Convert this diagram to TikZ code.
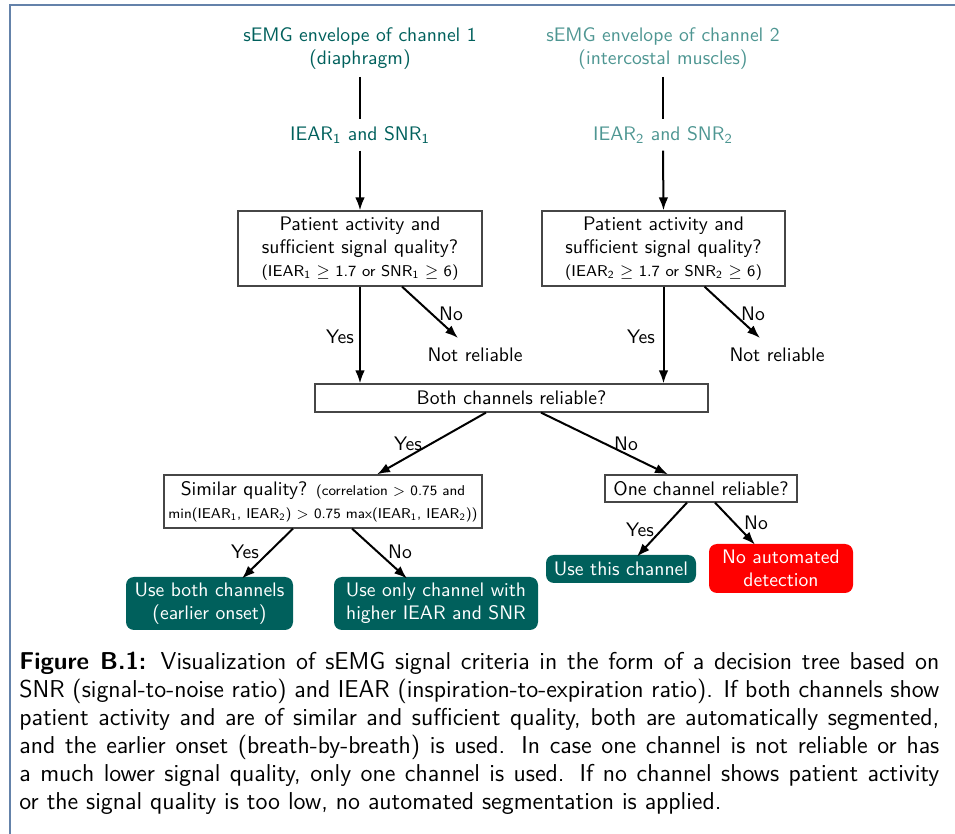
\documentclass[tikz,border=0pt]{standalone}
\usetikzlibrary{arrows.meta}
\definecolor{tealA}{RGB}{0,96,92}
\definecolor{tealB}{RGB}{78,150,146}
\definecolor{frameblue}{RGB}{100,130,170}
\definecolor{boxline}{RGB}{70,70,70}
\newcommand{\smalltxt}{\fontsize{7.8}{9}\selectfont}
\newcommand{\tinytxt}{\fontsize{7.1}{9}\selectfont}
\tikzset{
  qbox/.style={draw=boxline, line width=0.6pt, align=center, inner sep=1pt, fill=white},
  leaf/.style={fill=tealA, text=white, rounded corners=4pt, align=center, inner sep=1pt},
  arr/.style={-{Latex[length=6.5pt,width=4.8pt]}, line width=1pt},
  plain/.style={line width=1pt},
  lbl/.style={inner sep=0pt},
}
\begin{document}
\begin{tikzpicture}[x=0.5pt,y=-0.5pt,font=\sffamily\fontsize{9.8}{11.5}\selectfont]
\useasboundingbox (0,0) rectangle (955,834);
% page frame
\draw[frameblue, line width=1pt] (9.5,834) -- (9.5,5.5) -- (955,5.5);

% channel 1
\node[text=tealA, align=center] (c1) at (360,49) {sEMG envelope of channel 1\\(diaphragm)};
\node[text=tealA] (m1) at (360,135) {IEAR\textsubscript{1} and SNR\textsubscript{1}};
% channel 2
\node[text=tealB, align=center] (c2) at (663,49) {sEMG envelope of channel 2\\(intercostal muscles)};
\node[text=tealB] (m2) at (663,135) {IEAR\textsubscript{2} and SNR\textsubscript{2}};

% question boxes
\node[qbox, minimum width=122pt, minimum height=37.5pt] (b1) at (360,248.5)
  {Patient activity and\\sufficient signal quality?\\{\smalltxt (IEAR\textsubscript{1} $\geq$ 1.7 or SNR\textsubscript{1} $\geq$ 6)}};
\node[qbox, minimum width=121.5pt, minimum height=37.5pt] (b2) at (663.5,248.5)
  {Patient activity and\\sufficient signal quality?\\{\smalltxt (IEAR\textsubscript{2} $\geq$ 1.7 or SNR\textsubscript{2} $\geq$ 6)}};

\node[qbox, minimum width=196.5pt, minimum height=14pt] (both) at (511.5,398) {Both channels reliable?};

\node[qbox, minimum width=159pt, minimum height=26.5pt] (sim) at (323,501.5)
  {Similar quality? {\tinytxt (correlation $>$ 0.75 and}\\{\tinytxt min(IEAR\textsubscript{1}, IEAR\textsubscript{2}) $>$ 0.75 max(IEAR\textsubscript{1}, IEAR\textsubscript{2}))}};
\node[qbox, minimum width=96pt, minimum height=13.5pt] (one) at (701,488.5) {One channel reliable?};

% leaves
\node[leaf, minimum width=83.5pt, minimum height=26.5pt] (ub) at (209.5,603.5) {Use both channels\\(earlier onset)};
\node[leaf, minimum width=102pt, minimum height=26.5pt] (um) at (436,603.5) {Use only channel with\\higher IEAR and SNR};
\node[leaf, minimum width=75pt, minimum height=14pt] (ut) at (621,569) {Use this channel};
\node[leaf, fill=red, minimum width=72pt, minimum height=24.5pt] (na) at (781,568.5) {No automated\\detection};

% not reliable outcomes
\node[lbl] (nr1) at (475,355) {Not reliable};
\node[lbl] (nr2) at (777,355) {Not reliable};
\coordinate (t1) at (458,338);
\coordinate (t2) at (760,338);

% connectors
\draw[plain] (c1.south) -- (m1.north);
\draw[arr] (m1.south) -- (b1.north);
\draw[plain] (c2.south) -- (m2.north);
\draw[arr] (m2.south) -- (b2.north);

\draw[arr] (b1.south) -- (b1.south |- both.north);
\draw[arr] ([xshift=21pt]b1.south) -- (t1);
\draw[arr] (b2.south) -- (b2.south |- both.north);
\draw[arr] ([xshift=20.5pt]b2.south) -- (t2);

\draw[arr] ([xshift=-12.75pt]both.south) -- ([xshift=27pt]sim.north);
\draw[arr] ([xshift=14.75pt]both.south) -- ([xshift=-16.5pt]one.north);

\draw[arr] ([xshift=-15pt]sim.south) -- ([xshift=16.25pt,yshift=-1pt]ub.north);
\draw[arr] ([xshift=14.5pt]sim.south) -- ([xshift=-14.5pt,yshift=-1pt]um.north);

\draw[arr] ([xshift=-7pt]one.south) -- ([xshift=8pt,yshift=-1pt]ut.north);
\draw[arr] ([xshift=7pt]one.south) -- ([xshift=-13pt,yshift=-0.5pt]na.north);

% edge labels
\node[lbl] (y1) at (340,337) {Yes};
\node[lbl] (n1) at (451,314) {No};
\node[lbl] (y2) at (641,337) {Yes};
\node[lbl] (n2) at (753,314) {No};
\node[lbl] (y3) at (408,444) {Yes};
\node[lbl] (n3) at (626,444) {No};
\node[lbl] (y4) at (245,552) {Yes};
\node[lbl] (n4) at (400,552) {No};
\node[lbl] (y5) at (640,530) {Yes};
\node[lbl] (n5) at (756,523) {No};

% caption
\node[anchor=north west, text width=460pt, align=justify, inner sep=0pt,
      font=\sffamily\fontsize{12.2}{14}\selectfont] (cap) at (19,652)
{\textbf{Figure B.1:} Visualization of sEMG signal criteria in the form of a decision tree based on\linebreak
SNR (signal-to-noise ratio) and IEAR (inspiration-to-expiration ratio). If both channels show\linebreak
patient activity and are of similar and sufficient quality, both are automatically segmented,\linebreak
and the earlier onset (breath-by-breath) is used. In case one channel is not reliable or has\linebreak
a much lower signal quality, only one channel is used. If no channel shows patient activity\linebreak
or the signal quality is too low, no automated segmentation is applied.};
\end{tikzpicture}
\end{document}
